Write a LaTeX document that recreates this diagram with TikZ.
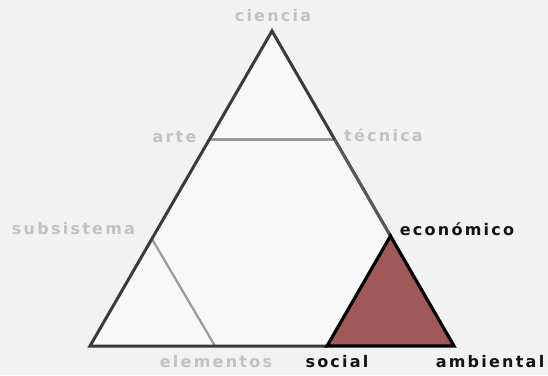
\documentclass[tikz,border=0pt]{standalone}
\usepackage{fontspec}
\setmainfont{Liberation Sans}
\newfontfamily\lblfont[LetterSpace=14]{DejaVu Sans Bold}
\definecolor{bgc}{HTML}{F2F2F2}
\definecolor{insidec}{HTML}{F8F8F8}
\definecolor{darkline}{HTML}{3A3A3A}
\definecolor{midline}{HTML}{5A5A5A}
\definecolor{lightline}{HTML}{9A9A9A}
\definecolor{greytext}{HTML}{C2C2C2}
\definecolor{redfill}{HTML}{A05858}
\begin{document}
\begin{tikzpicture}[x=1pt,y=-1pt,
  lbl/.style={font=\lblfont\fontsize{16}{19}\selectfont, inner sep=0pt},
  greylbl/.style={lbl, text=greytext},
  blacklbl/.style={lbl, text=black!92},
  mainline/.style={draw=darkline, line width=3pt, line join=miter},
  innerline/.style={draw=lightline, line width=2.2pt},
  redtri/.style={draw=black, fill=redfill, line width=3.2pt, line join=miter}]
\fill[bgc] (0,0) rectangle (548,375);
\useasboundingbox (0,0) rectangle (548,375);
% corner coordinates
\coordinate (apex) at (272,31);
\coordinate (bl) at (90,346);
\coordinate (br) at (454,346);
\coordinate (arteP) at (209.5,139.5);
\coordinate (tecP) at (334.5,139.5);
\coordinate (subP) at (152,239);
\coordinate (eleP) at (215,346);
\coordinate (socP) at (327,346);
\coordinate (ecoP) at (390.5,236);
% main triangle
\fill[insidec] (apex) -- (bl) -- (br) -- cycle;
\draw[innerline] (arteP) -- (tecP);
\draw[innerline] (subP) -- (eleP);
\draw[mainline] (ecoP) -- (apex) -- (bl) -- (socP);
\draw[draw=midline, line width=2.6pt] (tecP) -- (ecoP);
% red triangle
\draw[redtri] (socP) -- (br) -- (ecoP) -- cycle;
% labels
\node[greylbl] (ciencia) at (273,16) {ciencia};
\node[greylbl] (arte) at (174.5,137) {arte};
\node[greylbl] (tecnica) at (383.5,135) {técnica};
\node[greylbl] (subsistema) at (73.5,229) {subsistema};
\node[greylbl] (elementos) at (216,362) {elementos};
\node[blacklbl] (economico) at (457,229) {económico};
\node[blacklbl] (social) at (337,362) {social};
\node[blacklbl] (ambiental) at (490,362) {ambiental};
\end{tikzpicture}
\end{document}
